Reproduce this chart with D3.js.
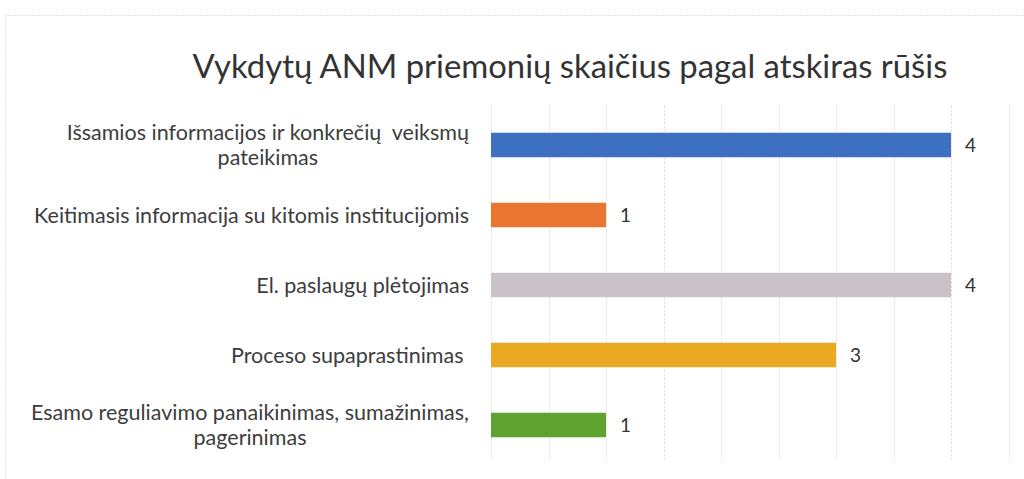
<!DOCTYPE html>
<html>
<head>
<meta charset="utf-8">
<script src="https://cdn.jsdelivr.net/npm/d3@7"></script>
<style>
  html, body { margin: 0; padding: 0; background: #fff; }
  svg { display: block; }
  text { font-family: Lato, "Open Sans", sans-serif; }
</style>
</head>
<body>
<div id="chart"></div>
<script>
// Chart data
const title = "Vykdytų ANM priemonių skaičius pagal atskiras rūšis";
const categories = [
  ["Išsamios informacijos ir konkrečių  veiksmų", "pateikimas"],
  ["Keitimasis informacija su kitomis institucijomis"],
  ["El. paslaugų plėtojimas"],
  ["Proceso supaprastinimas "],
  ["Esamo reguliavimo panaikinimas, sumažinimas,", "pagerinimas"]
];
const values = [4, 1, 4, 3, 1];
const colors = ["#3d70c0", "#ea7530", "#c9c3c7", "#eaa823", "#5fa22f"];
const gridTicks = [0, 0.5, 1, 1.5, 2, 2.5, 3, 3.5, 4, 4.5];

const width = 1024, height = 479;
const plotLeft = 491, plotRight = 1008.5, plotTop = 110, plotBottom = 460;
const labelRight = 469;

const svg = d3.select("#chart").append("svg")
  .attr("width", width)
  .attr("height", height);

// faint frame of the scanned chart area
svg.append("line")
  .attr("x1", 5).attr("x2", width).attr("y1", 15.5).attr("y2", 15.5)
  .attr("stroke", "#e4e0e2").attr("stroke-dasharray", "2,1");
svg.append("line")
  .attr("x1", 5.5).attr("x2", 5.5).attr("y1", 15).attr("y2", height)
  .attr("stroke", "#e8e4e6").attr("stroke-dasharray", "2,1");

const x = d3.scaleLinear().domain([0, 4.5]).range([plotLeft, plotRight]);
const y = d3.scaleBand()
  .domain(d3.range(categories.length))
  .range([plotTop, plotBottom])
  .paddingInner(0.65)
  .paddingOuter(0.325);

// vertical gridlines
svg.append("g")
  .selectAll("line")
  .data(gridTicks)
  .join("line")
    .attr("x1", d => Math.round(x(d)) + 0.5)
    .attr("x2", d => Math.round(x(d)) + 0.5)
    .attr("y1", 105)
    .attr("y2", plotBottom)
    .attr("stroke", "#ebe3e6")
    .attr("stroke-dasharray", "3,1");

// title, fitted to the width it takes in the reference
const titleText = svg.append("text")
  .attr("x", 570)
  .attr("y", 78)
  .attr("text-anchor", "middle")
  .attr("fill", "#333")
  .style("font-size", "30px")
  .text(title);
const tw = titleText.node().getComputedTextLength();
titleText.style("font-size", (30 * 755 / tw).toFixed(2) + "px");

// bars
svg.append("g")
  .selectAll("rect")
  .data(values)
  .join("rect")
    .attr("x", x(0))
    .attr("y", (d, i) => y(i))
    .attr("width", d => x(d) - x(0))
    .attr("height", y.bandwidth())
    .attr("fill", (d, i) => colors[i]);

// value labels
svg.append("g")
  .selectAll("text")
  .data(values)
  .join("text")
    .attr("x", d => x(d) + 14)
    .attr("y", (d, i) => y(i) + y.bandwidth() / 2)
    .attr("dy", "0.36em")
    .attr("fill", "#333")
    .style("font-size", "19px")
    .text(d => d);

// category labels: fit font so the longest single line matches the reference
const probe = svg.append("text").style("font-size", "20px").text(categories[1][0]);
const labelSize = 20 * 435 / probe.node().getComputedTextLength();
probe.remove();
const lineH = 25;

const labelG = svg.append("g");
categories.forEach((lines, i) => {
  const cy = y(i) + y.bandwidth() / 2;
  const g = labelG.append("g");
  const texts = lines.map((ln, k) => g.append("text")
    .attr("y", cy + (k - (lines.length - 1) / 2) * lineH)
    .attr("dy", "0.35em")
    .attr("fill", "#3d3d3d")
    .style("font-size", labelSize.toFixed(2) + "px")
    .style("white-space", "pre")
    .text(ln));
  if (lines.length === 1) {
    texts[0].attr("x", labelRight).attr("text-anchor", "end");
  } else {
    const maxW = d3.max(texts, t => t.node().getComputedTextLength());
    texts.forEach(t => t.attr("x", labelRight - maxW / 2).attr("text-anchor", "middle"));
  }
});
</script>
</body>
</html>
